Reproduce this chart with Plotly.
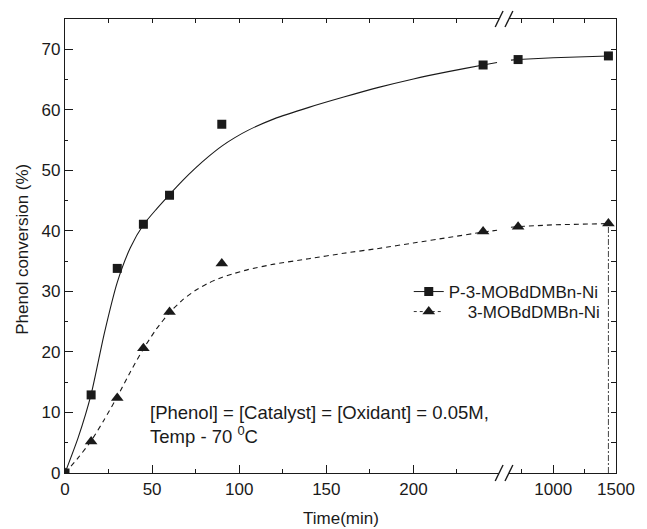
import plotly.graph_objects as go

t_left = [0, 15, 30, 45, 60, 90, 240]
sq_left = [0, 12.9, 33.8, 41.1, 45.9, 57.6, 67.4]
tri_left = [0, 5.2, 12.4, 20.6, 26.6, 34.6, 39.9]
t_right = [720, 1440]
sq_right = [68.3, 68.9]
tri_right = [40.7, 41.2]

# fitted curves
fit_t_left = [0, 7.5, 15, 22.5, 30, 37.5, 45, 52.5, 60, 67.5, 75, 82.5, 90, 97.5, 105, 120, 140, 160, 180, 200, 220, 240, 248]
fit_sq_left = [0, 5.8, 13.0, 23.0, 31.5, 37.2, 41.0, 43.6, 46.0, 48.3, 50.4, 52.3, 54.0, 55.4, 56.6, 58.5, 60.4, 62.1, 63.7, 65.1, 66.3, 67.4, 67.8]
fit_tri_left = [0, 2.5, 5.3, 8.8, 12.6, 16.7, 20.5, 23.8, 26.5, 28.6, 30.2, 31.4, 32.3, 33.0, 33.6, 34.5, 35.4, 36.3, 37.1, 38.0, 38.9, 39.8, 40.1]
fit_t_right = [663, 720, 1000, 1440]
fit_sq_right = [68.2, 68.3, 68.6, 68.9]
fit_tri_right = [40.6, 40.7, 41.0, 41.2]

name_a = "P-3-MOBdDMBn-Ni"
name_b = "\u00a0\u00a0\u00a0\u00a03-MOBdDMBn-Ni"
x_left_ticks = [0, 50, 100, 150, 200]
x_right_ticks = [1000, 1500]
y_ticks = [0, 10, 20, 30, 40, 50, 60, 70]

FONT = "Liberation Sans, Arial, Helvetica, sans-serif"
INK = "#1a1a1a"
DASH = "5px,4px"

L_RANGE = [0, 249.2]
R_RANGE = [647, 1500.5]
L_DOM = [0, 0.7879]
R_DOM = [0.8057, 1]


def px_x(p):
    return (p - 65) / 561.0


def px_y(p):
    return (473 - p) / 454.0


fig = go.Figure()

# curves
fig.add_trace(go.Scatter(x=fit_t_left, y=fit_sq_left, mode="lines", line=dict(color=INK, width=1.1, shape="spline", smoothing=0.6),
                         showlegend=False, hoverinfo="skip", xaxis="x", yaxis="y"))
fig.add_trace(go.Scatter(x=fit_t_left, y=fit_tri_left, mode="lines", line=dict(color=INK, width=1.1, dash=DASH, shape="spline", smoothing=0.6),
                         showlegend=False, hoverinfo="skip", xaxis="x", yaxis="y"))
fig.add_trace(go.Scatter(x=fit_t_right, y=fit_sq_right, mode="lines", line=dict(color=INK, width=1.1),
                         showlegend=False, hoverinfo="skip", xaxis="x2", yaxis="y2"))
fig.add_trace(go.Scatter(x=fit_t_right, y=fit_tri_right, mode="lines", line=dict(color=INK, width=1.1, dash=DASH),
                         showlegend=False, hoverinfo="skip", xaxis="x2", yaxis="y2"))
# vertical drop line at the last time
fig.add_trace(go.Scatter(x=[t_right[-1], t_right[-1]], y=[0, tri_right[-1]], mode="lines",
                         line=dict(color="#444", width=1, dash="6px,2px,2px,2px"),
                         showlegend=False, hoverinfo="skip", xaxis="x2", yaxis="y2"))

# markers
sq_marker = dict(symbol="square", size=9, color=INK)
tri_marker = dict(symbol="triangle-up", size=11, color=INK)
fig.add_trace(go.Scatter(x=t_left, y=sq_left, mode="markers", marker=sq_marker, showlegend=False, xaxis="x", yaxis="y"))
fig.add_trace(go.Scatter(x=t_left, y=tri_left, mode="markers", marker=tri_marker, showlegend=False, xaxis="x", yaxis="y"))
fig.add_trace(go.Scatter(x=t_right, y=sq_right, mode="markers", marker=sq_marker, showlegend=False, xaxis="x2", yaxis="y2"))
fig.add_trace(go.Scatter(x=t_right, y=tri_right, mode="markers", marker=tri_marker, showlegend=False, xaxis="x2", yaxis="y2"))

# legend entries (one legend box per row so the row spacing matches)
fig.add_trace(go.Scatter(x=[None], y=[None], mode="lines+markers", name=name_a, marker=sq_marker,
                         line=dict(color=INK, width=1), xaxis="x", yaxis="y", legend="legend"))
fig.add_trace(go.Scatter(x=[None], y=[None], mode="lines+markers", name=name_b, marker=tri_marker,
                         line=dict(color="#333", width=1, dash="3px,3px"), xaxis="x", yaxis="y", legend="legend2"))

# dummy traces for top tick axes
fig.add_trace(go.Scatter(x=[None], y=[None], showlegend=False, hoverinfo="skip", xaxis="x3", yaxis="y"))
fig.add_trace(go.Scatter(x=[None], y=[None], showlegend=False, hoverinfo="skip", xaxis="x4", yaxis="y2"))

axis_common = dict(showgrid=False, zeroline=False, showline=True, linecolor=INK, linewidth=1.2,
                   ticks="inside", tickcolor=INK, tickwidth=1.2,
                   tickfont=dict(family=FONT, size=17, color=INK))
axis_nolab = {k: v for k, v in axis_common.items() if k != "tickfont"}

legend_common = dict(xanchor="left", yanchor="middle", bgcolor="rgba(0,0,0,0)",
                     font=dict(family=FONT, size=17, color=INK), itemsizing="trace")

fig.update_layout(
    width=647, height=529,
    margin=dict(l=65, r=21, t=19, b=56),
    paper_bgcolor="white", plot_bgcolor="white",
    font=dict(family=FONT, size=17, color=INK),
    xaxis=dict(domain=L_DOM, range=L_RANGE, anchor="y", tickmode="array", tickvals=x_left_ticks,
               ticklen=8, minor=dict(dtick=25, tick0=0, ticklen=4, ticks="inside", tickcolor=INK, tickwidth=1), **axis_common),
    xaxis2=dict(domain=R_DOM, range=R_RANGE, anchor="y2", tickmode="array", tickvals=x_right_ticks,
                ticklen=8, minor=dict(dtick=250, tick0=0, ticklen=4, ticks="inside", tickcolor=INK, tickwidth=1), **axis_common),
    xaxis3=dict(overlaying="x", side="top", anchor="y", range=L_RANGE, dtick=25, tick0=0, ticklen=4,
                showticklabels=False, **axis_nolab),
    xaxis4=dict(overlaying="x2", side="top", anchor="y2", range=R_RANGE, dtick=250, tick0=0, ticklen=4,
                showticklabels=False, **axis_nolab),
    yaxis=dict(domain=[0, 1], range=[0, 75], anchor="x", tickmode="array", tickvals=y_ticks, ticklen=8,
               minor=dict(dtick=5, tick0=0, ticklen=3, ticks="inside", tickcolor=INK, tickwidth=1), **axis_common),
    yaxis2=dict(domain=[0, 1], range=[0, 75], anchor="x2", side="right", dtick=5, tick0=0, ticklen=5,
                showticklabels=False, **axis_nolab),
    legend=dict(x=px_x(415), y=px_y(292), **legend_common),
    legend2=dict(x=px_x(415), y=px_y(312), **legend_common),
    showlegend=True,
)

# axis break marks
for yy in (19, 473):
    for x0 in (503, 513):
        fig.add_shape(type="line", xref="paper", yref="paper",
                      x0=px_x(x0), y0=px_y(yy + 8), x1=px_x(x0 + 8), y1=px_y(yy - 8),
                      line=dict(color=INK, width=1.4))

fig.add_annotation(xref="paper", yref="paper", x=px_x(150), y=px_y(424), xanchor="left", yanchor="middle",
                   align="left", showarrow=False,
                   text="[Phenol] = [Catalyst] = [Oxidant] = 0.05M,<br>Temp - 70 <sup>0</sup>C",
                   font=dict(family=FONT, size=18.5, color=INK))
fig.add_annotation(xref="paper", yref="paper", x=0.5, y=px_y(518), xanchor="center", yanchor="middle",
                   showarrow=False, text="Time(min)", font=dict(family=FONT, size=17, color=INK))
fig.add_annotation(xref="paper", yref="paper", x=px_x(22), y=px_y(249), xanchor="center", yanchor="middle",
                   showarrow=False, textangle=-90, text="Phenol conversion (%)",
                   font=dict(family=FONT, size=17, color=INK))

fig.write_html("out.html", config={"displayModeBar": False},
               post_script="document.body.style.margin='0';document.body.style.padding='0';document.body.style.overflow='hidden';")
